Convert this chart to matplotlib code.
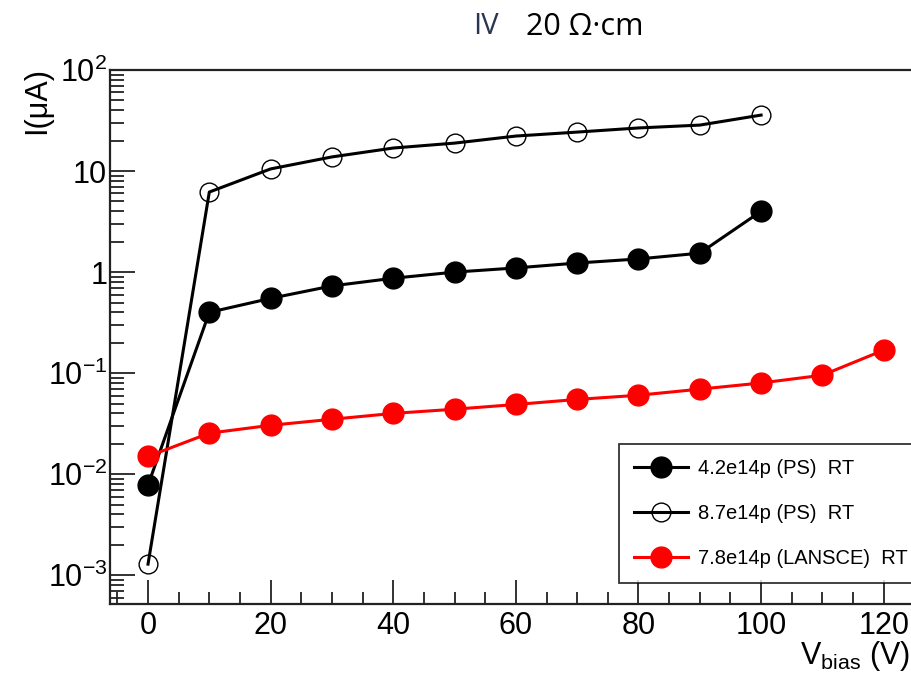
import matplotlib
matplotlib.use('Agg')
import matplotlib.pyplot as plt
from matplotlib.ticker import FixedLocator, FixedFormatter, MultipleLocator, LogLocator, NullFormatter

plt.rcParams['font.family'] = ['Liberation Sans', 'DejaVu Sans']
plt.rcParams['mathtext.fontset'] = 'custom'
plt.rcParams['mathtext.rm'] = 'Liberation Sans'
plt.rcParams['mathtext.it'] = 'Liberation Sans'

# data
v_bias = [0, 10, 20, 30, 40, 50, 60, 70, 80, 90, 100]
i_42_ps = [0.0078, 0.40, 0.55, 0.73, 0.87, 1.0, 1.1, 1.23, 1.35, 1.54, 4.0]
i_87_ps = [0.00129, 6.2, 10.5, 13.8, 16.9, 18.9, 22.2, 24.3, 26.7, 28.5, 35.8]
v_lansce = [0, 10, 20, 30, 40, 50, 60, 70, 80, 90, 100, 110, 120]
i_78_lansce = [0.0150, 0.0255, 0.0305, 0.035, 0.040, 0.044, 0.049, 0.055,
               0.0605, 0.0695, 0.080, 0.0955, 0.169]
labels = ['4.2e14p (PS)  RT', '8.7e14p (PS)  RT', '7.8e14p (LANSCE)  RT']

ytick_vals = [1e-3, 1e-2, 1e-1, 1, 10, 100]
ytick_labels = ['$10^{-3}$', '$10^{-2}$', '$10^{-1}$', '1', '10', '$10^{2}$']

fig = plt.figure(figsize=(9.12, 6.77), dpi=100)
ax = fig.add_axes([110/912, 1-604/677, 835/912, 534/677])

ax.plot(v_bias, i_42_ps, color='black', lw=2.2, marker='o', ms=15,
        mfc='black', mec='black', label=labels[0])
ax.plot(v_bias, i_87_ps, color='black', lw=2.2, marker='o', ms=13.5,
        mfc='none', mec='black', mew=1.0, label=labels[1])
ax.plot(v_lansce, i_78_lansce, color='red', lw=2.2, marker='o', ms=15,
        mfc='red', mec='red', label=labels[2])

ax.set_yscale('log')
ax.set_ylim(5.2e-4, 100)
ax.set_xlim(-6.2, 130)

ax.yaxis.set_major_locator(FixedLocator(ytick_vals))
ax.yaxis.set_major_formatter(FixedFormatter(ytick_labels))
ax.yaxis.set_minor_locator(LogLocator(base=10, subs=range(2, 10)))
ax.yaxis.set_minor_formatter(NullFormatter())
ax.xaxis.set_major_locator(MultipleLocator(20))
ax.xaxis.set_minor_locator(MultipleLocator(5))

ax.tick_params(axis='both', which='both', direction='in', color='#222222')
ax.tick_params(axis='y', which='major', length=18, width=1.3, labelsize=22, pad=2)
ax.tick_params(axis='y', which='minor', length=10, width=1.3)
ax.tick_params(axis='x', which='major', length=17, width=1.3, labelsize=22, pad=5)
ax.tick_params(axis='x', which='minor', length=9, width=1.3)
for s in ax.spines.values():
    s.set_linewidth(1.6)
    s.set_color('#222222')

leg = ax.legend(loc='lower left', bbox_to_anchor=(0.609, 0.039, 0.5, 0.25),
                mode='expand', fontsize=14.5, frameon=True, fancybox=False,
                edgecolor='black', handlelength=2.7, handletextpad=0.5,
                labelspacing=1.3, borderpad=0.75, borderaxespad=0)
leg.get_frame().set_linewidth(1.3)

fig.text(0.041, 1-67/677, 'I(μA)', rotation=90, ha='center', va='top', fontsize=22)
fig.text(0.998, 1-664/677, 'V$_{\\mathrm{bias}}$ (V)', ha='right', va='baseline', fontsize=22)

fig.text(473/912, 1-27/677, 'IV', ha='left', va='center', fontsize=21,
         color='#2a3550', family='Open Sans')
fig.text(526/912, 1-27/677, '20 Ω·cm', ha='left', va='center', fontsize=22,
         color='black', family='Open Sans')

fig.savefig('out.png', dpi=100)
